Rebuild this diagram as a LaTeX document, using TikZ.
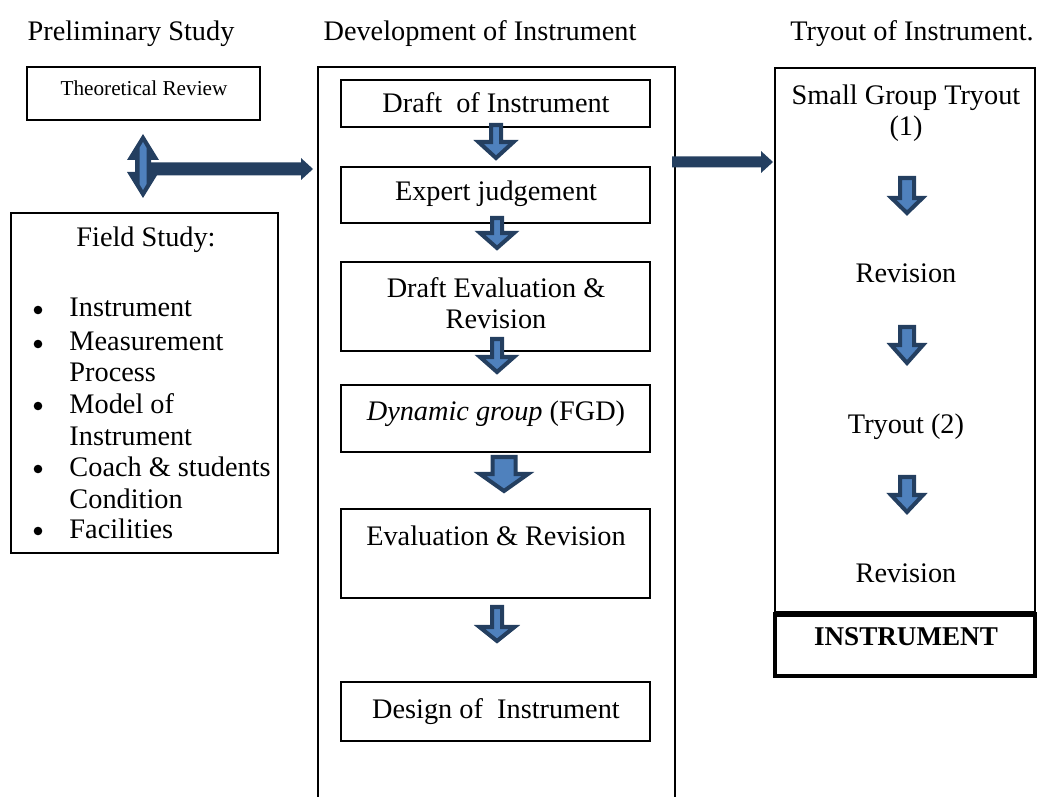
\documentclass[tikz,border=0pt]{standalone}
\usepackage{fontspec}
\setmainfont{Liberation Serif}
\usetikzlibrary{fit}
\definecolor{navy}{HTML}{243F60}
\definecolor{lblue}{HTML}{4F81BD}
\tikzset{
  frame/.style={draw=black, line width=0.6pt, inner sep=0pt},
  txt/.style={inner sep=0pt, anchor=base, font=\fontsize{12}{14}\selectfont},
  btxt/.style={inner sep=0pt, anchor=base west, font=\fontsize{12}{14}\selectfont},
  downarrow/.style={fill=lblue, draw=navy, line width=1.7pt, line join=miter},
}
% down block arrow: cx, top, head base, tip, head half width, shaft half width
\newcommand\darr[6]{\draw[downarrow] (#1-#6,#2) -- (#1+#6,#2) -- (#1+#6,#3) -- (#1+#5,#3) -- (#1,#4) -- (#1-#5,#3) -- (#1-#6,#3) -- cycle;}
\begin{document}
\begin{tikzpicture}[x=0.424pt, y=-0.424pt]
\path[use as bounding box] (0,0) rectangle (1041,797);

% headers
\node[txt] (h1) at (131,41) {Preliminary Study};
\node[txt] (h2) at (480,41) {Development of Instrument};
\node[txt] (h3) at (912,41) {Tryout of Instrument.};

% ---------- left column ----------
\node[frame, fit={(27,67) (260,120)}] (theo) {};
\node[inner sep=0pt, anchor=base, font=\fontsize{9}{11}\selectfont] at (144,96) {Theoretical Review};

\node[frame, fit={(11,213) (278,553)}] (field) {};
\node[txt] at (146,247) {Field Study:};
\foreach \y/\t/\b in {317/Instrument/1, 351/Measurement/1, 382/Process/0, 413/Model of/1, 445/Instrument/0, 476/Coach \& students/1, 508/Condition/0, 538/Facilities/1}{
  \node[btxt] at (69,\y) {\t};
  \ifnum\b=1 \fill (38,\y-7) circle[radius=4.3]; \fi
}

% double vertical arrow
\coordinate (dv) at (143,166);
\fill[navy] (143,134) -- (159,160) -- (151,160) -- (151,172) -- (159,172) -- (143,198) -- (127,172) -- (135,172) -- (135,160) -- (127,160) -- cycle;
\fill[lblue] (143,142) -- (146.5,148) -- (146.5,184) -- (143,190) -- (139.5,184) -- (139.5,148) -- cycle;
% horizontal arrow to development column
\coordinate (ha) at (151,169);
\fill[navy] (151,162.5) -- (301,162.5) -- (301,158) -- (313,169) -- (301,180) -- (301,175.5) -- (151,175.5) -- cycle;

% ---------- middle column ----------
\draw[line width=0.6pt] (318,797) -- (318,67) -- (675,67) -- (675,797);
\node[frame, fit={(341,80) (650,127)}] (draft) {};
\node[txt] at (496,113) {Draft\ \ of Instrument};
\node[frame, fit={(341,167) (650,223)}] (expert) {};
\node[txt] at (496,201) {Expert judgement};
\node[frame, fit={(341,262) (650,351)}] (deval) {};
\node[txt] at (496,298) {Draft Evaluation \&};
\node[txt] at (496,329) {Revision};
\node[frame, fit={(341,385) (650,452)}] (dyn) {};
\node[txt] at (496,420) {\textit{Dynamic group} (FGD)};
\node[frame, fit={(341,509) (650,598)}] (evrev) {};
\node[txt] at (496,545) {Evaluation \& Revision};
\node[frame, fit={(341,682) (650,741)}] (design) {};
\node[txt] at (496,718) {Design of\ \ Instrument};

\darr{496}{125}{142}{158}{17.5}{5}
\darr{497}{218}{233}{248}{17}{5}
\darr{497}{339}{357}{372}{17}{5}
\darr{504}{457}{474}{491}{24}{11.5}
\darr{497}{607}{627}{641}{17.5}{5}

% horizontal arrow to tryout column
\coordinate (hb) at (672,162);
\fill[navy] (672,156.5) -- (761,156.5) -- (761,151) -- (773,162) -- (761,173) -- (761,167.5) -- (672,167.5) -- cycle;

% ---------- right column ----------
\node[frame, fit={(775,68) (1035,612)}] (tryout) {};
\node[txt] at (906,105) {Small Group Tryout};
\node[txt] at (906,136) {(1)};
\node[txt] at (906,282) {Revision};
\node[txt] at (906,433) {Tryout (2)};
\node[txt] at (906,582) {Revision};
\darr{907}{178}{198}{213}{15.5}{7}
\darr{907}{327}{345}{363}{16}{7}
\darr{907}{477}{495}{512}{16}{7}

\node[draw=black, line width=2.1pt, inner sep=0pt, fit={(775,614.5) (1035,676)}] (instr) {};
\node[txt, font=\fontsize{11.5}{14}\selectfont\bfseries] at (906,645) {INSTRUMENT};
\end{tikzpicture}
\end{document}
